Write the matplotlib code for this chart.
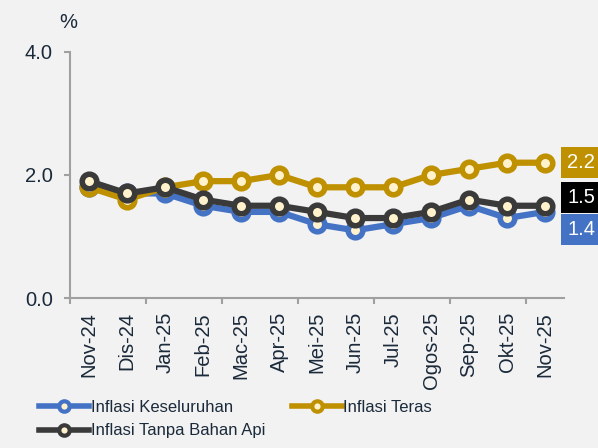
import matplotlib
matplotlib.use("Agg")
import matplotlib.pyplot as plt
from matplotlib.lines import Line2D

plt.rcParams['font.family'] = ['Liberation Sans', 'DejaVu Sans']

months = ["Nov-24", "Dis-24", "Jan-25", "Feb-25", "Mac-25", "Apr-25", "Mei-25",
          "Jun-25", "Jul-25", "Ogos-25", "Sep-25", "Okt-25", "Nov-25"]
keseluruhan = [1.8, 1.7, 1.7, 1.5, 1.4, 1.4, 1.2, 1.1, 1.2, 1.3, 1.5, 1.3, 1.4]
teras = [1.8, 1.6, 1.8, 1.9, 1.9, 2.0, 1.8, 1.8, 1.8, 2.0, 2.1, 2.2, 2.2]
tanpa_api = [1.9, 1.7, 1.8, 1.6, 1.5, 1.5, 1.4, 1.3, 1.3, 1.4, 1.6, 1.5, 1.5]
yticks = [0.0, 2.0, 4.0]

BG = "#f2f2f2"
TXT = "#1b2a3a"
BLUE = "#4472c4"
GOLD = "#bf9000"
DARK = "#3a3a3a"
FACE = "#fff2cc"

fig = plt.figure(figsize=(5.98, 4.48), dpi=100, facecolor=BG)
ax = fig.add_axes([70/598, 1-298/448, 494/598, 246/448], facecolor=BG)

x = list(range(len(months)))
series = [
    (keseluruhan, BLUE, "Inflasi Keseluruhan", 2),
    (teras, GOLD, "Inflasi Teras", 3),
    (tanpa_api, DARK, "Inflasi Tanpa Bahan Api", 4),
]
for vals, col, lab, z in series:
    ax.plot(x, vals, color=col, lw=4.5, marker='o', ms=10.5, mew=4,
            mec=col, mfc=FACE, zorder=z, solid_capstyle='round')

ax.set_xlim(-0.5, len(months) - 0.5)
ax.set_ylim(0, 4)
ax.set_yticks(yticks)
ax.set_yticklabels([f"{v:.1f}" for v in yticks])
ax.set_xticks(x)
ax.set_xticklabels(months, rotation=90)
ax.set_xticks([i - 0.5 for i in range(0, len(months), 2)], minor=True)

for s in ['top', 'right']:
    ax.spines[s].set_visible(False)
for s in ['left', 'bottom']:
    ax.spines[s].set_color("#a0a0a0")
    ax.spines[s].set_linewidth(1.5)

ax.tick_params(axis='y', direction='out', length=4.5, width=1.5, color="#a0a0a0",
               labelsize=14.5, labelcolor=TXT, pad=8)
ax.tick_params(axis='x', which='major', length=0, labelsize=14.5, labelcolor=TXT, pad=10)
ax.tick_params(axis='x', which='minor', direction='out', length=4.5, width=1.5, color="#a0a0a0")

fig.text(68/598, 1-23/448, "%", fontsize=14.5, color=TXT, ha='center', va='center')

# end labels
ends = [(teras, GOLD, 0), (tanpa_api, "#000000", 6), (keseluruhan, BLUE, -13)]
for vals, col, dy in ends:
    ax.annotate(f"{vals[-1]:.1f}", xy=(x[-1], vals[-1]), xytext=(16, dy),
                textcoords='offset points', ha='left', va='center', fontsize=14.5,
                color='white', annotation_clip=False,
                bbox=dict(boxstyle='square,pad=0.3', fc=col, ec='none'))

handles = [
    Line2D([], [], color=BLUE, lw=4, marker='o', ms=7.5, mew=3, mec=BLUE, mfc=FACE),
    Line2D([], [], color=DARK, lw=4, marker='o', ms=7.5, mew=3, mec=DARK, mfc=FACE),
    Line2D([], [], color=GOLD, lw=4, marker='o', ms=7.5, mew=3, mec=GOLD, mfc=FACE),
]
labels = ["Inflasi Keseluruhan", "Inflasi Tanpa Bahan Api", "Inflasi Teras"]
leg = fig.legend(handles, labels, loc='upper left', bbox_to_anchor=(39/598, 1-400/448),
                 ncol=2, frameon=False, fontsize=12, handlelength=3.0,
                 handletextpad=0.1, columnspacing=1.6, labelspacing=0.5,
                 borderaxespad=0, borderpad=0)
for t in leg.get_texts():
    t.set_color(TXT)

fig.savefig("out.png", dpi=100, facecolor=BG)
